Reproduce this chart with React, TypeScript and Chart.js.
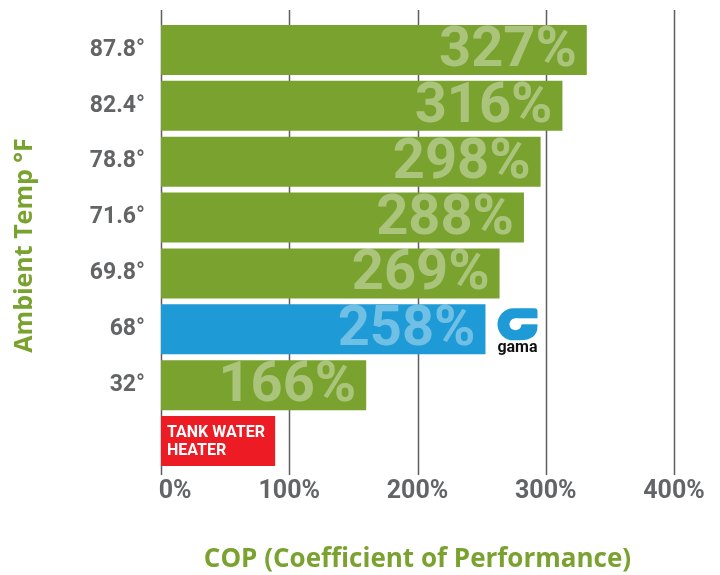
import React, { useEffect, useRef } from "react";
import { Chart, registerables } from "chart.js";

Chart.register(...registerables);

// ---- data ----
const categories = ["87.8°", "82.4°", "78.8°", "71.6°", "69.8°", "68°", "32°", ""];
const copValues = [332, 313, 296, 283, 264, 253, 160, 89];
const valueLabels = ["327%", "316%", "298%", "288%", "269%", "258%", "166%", ""];
const xTickValues = [0, 100, 200, 300, 400];
const tankLabelLines = ["TANK WATER", "HEATER"];
const logoText = "gama";

const GREEN = "#7aa22f";
const BLUE = "#1e9ad6";
const RED = "#ed1c24";
const GRAY = "#636466";
const barColors = [GREEN, GREEN, GREEN, GREEN, GREEN, BLUE, GREEN, RED];

const overlayPlugin = {
  id: "overlay",
  beforeDatasetsDraw(chart: any) {
    const { ctx, chartArea } = chart;
    const xs = chart.scales.x;
    ctx.save();
    ctx.strokeStyle = "#5f5f5f";
    ctx.lineWidth = 1.5;
    xTickValues.forEach((v) => {
      const px = Math.round(xs.getPixelForValue(v)) + 0.5;
      ctx.beginPath();
      ctx.moveTo(px, chartArea.top - 12);
      ctx.lineTo(px, chartArea.bottom + 6);
      ctx.stroke();
    });
    ctx.restore();
  },
  afterDatasetsDraw(chart: any) {
    const { ctx } = chart;
    const meta = chart.getDatasetMeta(0);
    ctx.save();
    meta.data.forEach((bar: any, i: number) => {
      const txt = valueLabels[i];
      if (txt) {
        ctx.font = "bold 56px Roboto";
        ctx.textAlign = "right";
        ctx.textBaseline = "middle";
        ctx.fillStyle = "rgba(255,255,255,0.37)";
        ctx.fillText(txt, bar.x - 10, bar.y + 2);
      }
    });
    // tank label on last bar
    const last = meta.data[meta.data.length - 1];
    if (last) {
      ctx.font = "bold 16px Roboto";
      ctx.textAlign = "left";
      ctx.textBaseline = "middle";
      ctx.fillStyle = "#ffffff";
      ctx.fillText(tankLabelLines[0], last.base + 6, last.y - 8);
      ctx.fillText(tankLabelLines[1], last.base + 6, last.y + 10);
    }
    // logo next to blue bar
    const blue = meta.data[5];
    if (blue) {
      const cx = blue.x + 32;
      const cy = blue.y - 5;
      const w = 20;
      const h = 16;
      ctx.fillStyle = BLUE;
      ctx.beginPath();
      ctx.moveTo(cx - w + h, cy - h);
      ctx.lineTo(cx + w - 3, cy - h);
      ctx.quadraticCurveTo(cx + w, cy - h, cx + w, cy - h + 3);
      ctx.lineTo(cx + w, cy);
      ctx.lineTo(cx + w, cy + 2);
      ctx.quadraticCurveTo(cx + w, cy + h, cx + 2, cy + h);
      ctx.lineTo(cx - w + h, cy + h);
      ctx.arc(cx - w + h, cy, h, Math.PI / 2, Math.PI * 1.5, false);
      ctx.closePath();
      ctx.fill();
      ctx.fillStyle = "#ffffff";
      ctx.beginPath();
      ctx.arc(cx - 2, cy, 6, 0, Math.PI * 2);
      ctx.fill();
      ctx.fillRect(cx - 2, cy - 6, w + 4, 6);
      ctx.fillStyle = "#111111";
      ctx.font = "bold 16px Roboto";
      ctx.textAlign = "center";
      ctx.textBaseline = "alphabetic";
      ctx.fillText(logoText, cx, blue.y + 23);
    }
    ctx.restore();
  },
};

export default function App() {
  const ref = useRef<HTMLCanvasElement | null>(null);
  useEffect(() => {
    if (!ref.current) return;
    const chart = new Chart(ref.current, {
      type: "bar",
      data: {
        labels: categories,
        datasets: [
          {
            data: copValues,
            backgroundColor: barColors,
            borderWidth: 0,
            categoryPercentage: 1,
            barPercentage: 0.895,
          },
        ],
      },
      options: {
        indexAxis: "y",
        responsive: false,
        animation: false,
        layout: { padding: { left: 0, right: 46, top: 22, bottom: 0 } },
        plugins: {
          legend: { display: false },
          tooltip: { enabled: false },
        },
        scales: {
          x: {
            min: 0,
            max: 400,
            grid: { display: false, drawTicks: false },
            border: { display: false },
            afterFit: (s: any) => {
              s.height = 106;
            },
            afterBuildTicks: (s: any) => {
              s.ticks = xTickValues.map((v) => ({ value: v }));
            },
            ticks: {
              padding: 8,
              color: GRAY,
              font: { family: "Roboto", weight: "bold", size: 25 },
              maxRotation: 0,
              autoSkip: false,
              callback: (v: any) => (Number(v) === 0 ? "\u2007\u20070%" : v + "%"),
            },
            title: {
              display: true,
              text: "COP (Coefficient of Performance)",
              color: GREEN,
              font: { family: "Open Sans", weight: "bold", size: 26 },
              padding: { top: 0, bottom: 0 },
            },
          },
          y: {
            grid: { display: false, drawTicks: false },
            border: { display: false },
            afterFit: (s: any) => {
              s.width = 161;
              s.paddingTop = 0;
              s.paddingBottom = 0;
            },
            ticks: {
              padding: 16,
              color: GRAY,
              font: { family: "Roboto", weight: "bold", size: 23 },
            },
            title: {
              display: true,
              text: "Ambient Temp °F",
              color: GREEN,
              font: { family: "Open Sans", weight: "bold", size: 25 },
              padding: { top: 10, bottom: 0 },
            },
          },
        },
      },
      plugins: [overlayPlugin],
    } as any);
    return () => chart.destroy();
  }, []);
  return (
    <div style={{ position: "absolute", left: 0, top: 0, width: 720, height: 575, background: "#fff" }}>
      <canvas ref={ref} width={720} height={575} />
    </div>
  );
}
